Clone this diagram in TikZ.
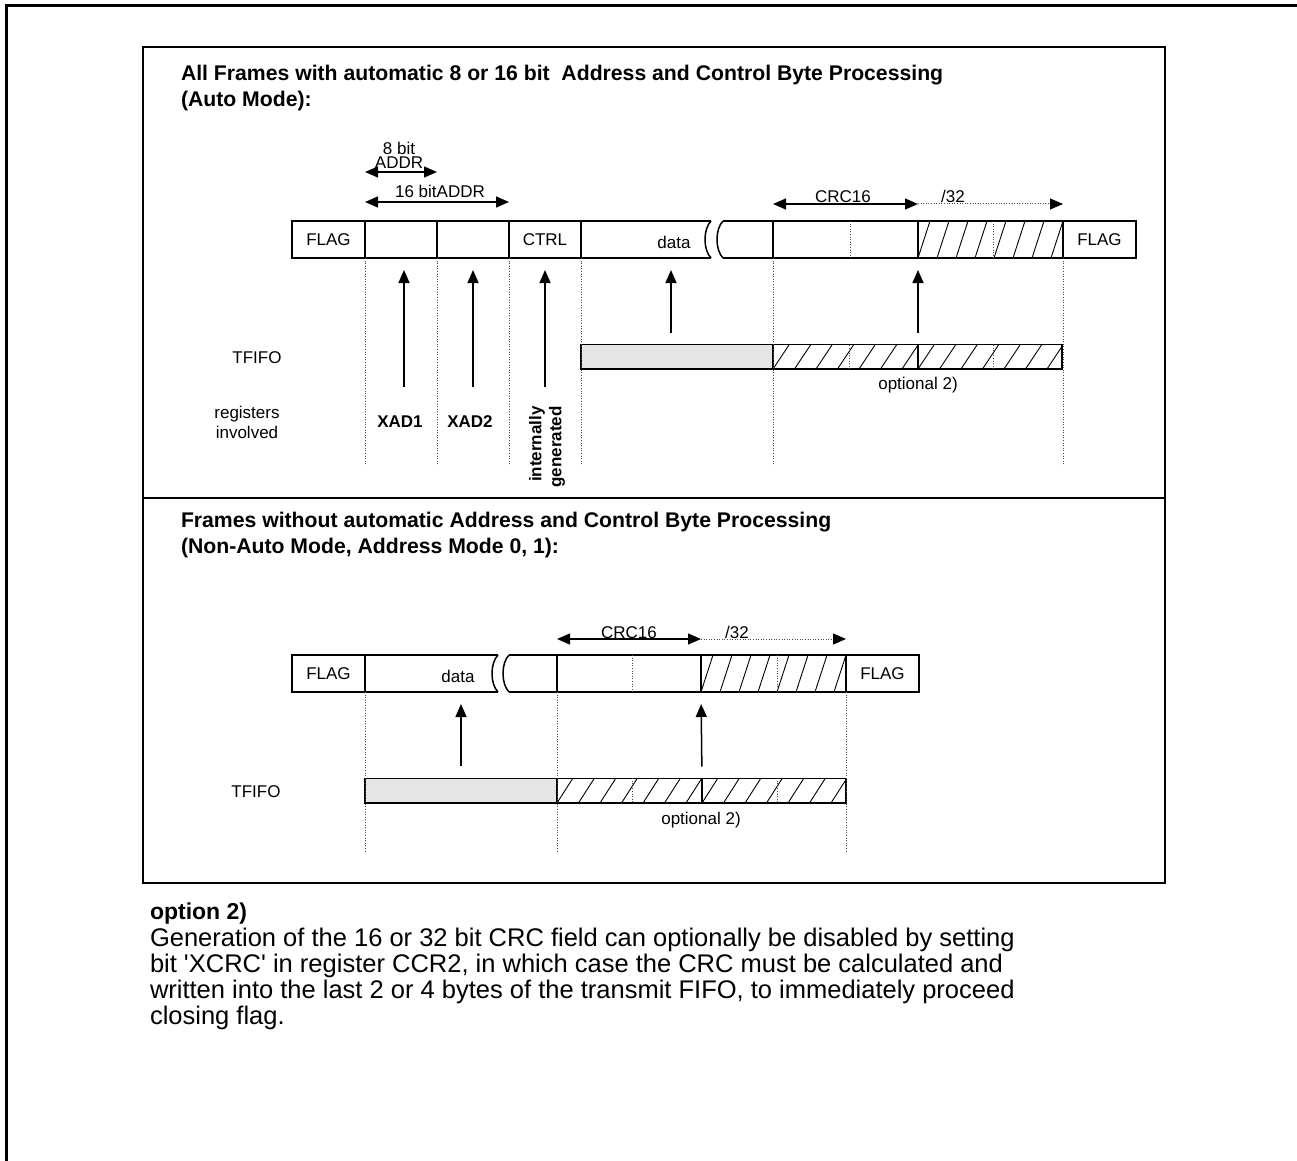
\documentclass[tikz,border=0pt]{standalone}
\usepackage{fontspec}
\setmainfont{Liberation Sans}
\usetikzlibrary{arrows.meta}
\newcommand\myd{\fontsize{8.5}{10}\selectfont}
\newcommand\myt{\fontsize{10.6}{13}\selectfont\bfseries}
\newcommand\myp{\fontsize{12.75}{13}\selectfont}
\newcommand\mkfld[6][]{%
  \pgfmathsetmacro\fldw{(#4-#3)*0.5}%
  \node[fld,minimum width=\fldw pt,#1] (#2) at (#3,#5) {#6};}
\newcommand\hatch[6]{%
  \begin{scope}
    \clip (#1,#3) rectangle (#2,#4);
    \pgfmathtruncatemacro\nh{(#2-#1)/#5+1}%
    \foreach \k in {0,...,\nh}{\draw[hatchln] ({#1+\k*#5},#4) -- ({#1+\k*#5+#6},#3);}
  \end{scope}}
\begin{document}
\begin{tikzpicture}[x=0.5pt,y=-0.5pt,
  every node/.style={inner sep=0pt,outer sep=0pt},
  fld/.style={draw,line width=0.75pt,minimum height=18.5pt,anchor=south west,font=\myd},
  bx/.style={line width=0.75pt},
  dots/.style={line width=0.5pt,black!70,dash pattern=on 0.5pt off 0.8pt},
  dimarrow/.style={line width=0.7pt,{Triangle[length=6.5pt,width=5.5pt]}-{Triangle[length=6.5pt,width=5.5pt]}},
  dotarrow/.style={dots,-{Triangle[length=6.5pt,width=5.5pt,color=black]}},
  uparrow/.style={line width=0.75pt,-{Triangle[length=6.5pt,width=5.5pt]},shorten <=6pt,shorten >=6pt},
  lbl/.style={font=\myd},
  blbl/.style={font=\myd\bfseries},
  ttl/.style={anchor=base west,font=\myt},
  para/.style={anchor=base west,font=\myp},
  hatchln/.style={line width=0.45pt},
  fifo/.style={minimum height=12.25pt},
]
\useasboundingbox (0,0) rectangle (1297,1161);
% outer and inner frames
\draw[line width=1.5pt] (6.5,1161) -- (6.5,5.5) -- (1297,5.5);
\draw[line width=1pt] (143,47) rectangle (1165,883);
\draw[line width=1pt] (143,498) -- (1165,498);

% titles
\node[ttl] (t1a) at (181,81) {All Frames with automatic 8 or 16 bit~ Address and Control Byte Processing};
\node[ttl] (t1b) at (181,107) {(Auto Mode):};
\node[ttl] (t2a) at (181,527) {Frames without automatic Address and Control Byte Processing};
\node[ttl] (t2b) at (181,553) {(Non-Auto Mode, Address Mode 0, 1):};

% ===== top frame =====
\mkfld{fa}{292}{365}{258}{FLAG}
\mkfld{xa}{365}{437}{258}{}
\mkfld{xb}{437}{509}{258}{}
\mkfld{ct}{509}{581}{258}{CTRL}
\mkfld[draw=none]{dbox}{581}{711}{258}{}
\draw[bx] (711,221) -- (581,221) -- (581,258) -- (711,258);
\draw[bx] (711,221) .. controls (703,229) and (703,250) .. (711,258);
\draw[bx] (723,221) .. controls (715,229) and (715,250) .. (723,258);
\draw[bx] (723,221) -- (773,221);
\draw[bx] (723,258) -- (773,258);
\node[lbl] (dt) at (674,242) {data};
\mkfld{crc}{773}{918}{258}{}
\mkfld{hat}{918}{1063}{258}{}
\hatch{918}{1063}{221}{258}{19}{12}
\mkfld{fb}{1063}{1136}{258}{FLAG}
\draw[dots] (850,221) -- (850,258);
\draw[dots] (993,221) -- (993,258);

% dimension arrows
\draw[dimarrow] ([yshift=24.5pt]xa.north west) -- ([yshift=24.5pt]xa.north east);
\node[font=\fontsize{8.5}{7}\selectfont,align=center,anchor=south] (l8) at (399,169) {8 bit\\ADDR};
\draw[dimarrow] ([yshift=9.5pt]xa.north west) -- ([yshift=9.5pt]xb.north east);
\node[lbl,anchor=base] (l16) at (440,198) {16 bitADDR};
\draw[dimarrow] ([yshift=8.5pt]crc.north west) -- ([yshift=8.5pt]crc.north east);
\draw[dotarrow] ([yshift=8.5pt]hat.north west) -- ([yshift=8.5pt]hat.north east);
\node[lbl,anchor=base] (lc) at (843,203) {CRC16};
\node[lbl,anchor=base] (l32) at (953,203) {/32};

% TFIFO
\node[lbl] (tf) at (257,358) {TFIFO};
\mkfld[fifo,fill=black!10]{tg}{581}{773}{369}{}
\mkfld[fifo]{th1}{773}{918}{369}{}
\mkfld[fifo]{th2}{918}{1062}{369}{}
\hatch{773}{918}{345}{369}{21.5}{16}
\hatch{918}{1062}{345}{369}{21.5}{16}
\draw[dots] (849,345) -- (849,369);
\draw[dots] (993,345) -- (993,369);
\node[lbl] (op) at (918,385) {optional 2)};

% vertical guides
\foreach \p in {xa.south west,xb.south west,ct.south west,ct.south east,crc.south west,hat.south east}
  \draw[dots] (\p) -- ++(0,208);

% arrows
\coordinate (a1) at (404,387);
\coordinate (a2) at (473,387);
\coordinate (a3) at (545,387);
\draw[uparrow,shorten <=0pt] (a1) -- (a1 |- xa.south);
\draw[uparrow,shorten <=0pt] (a2) -- (a2 |- xb.south);
\draw[uparrow,shorten <=0pt] (a3) -- (a3 |- ct.south);
\coordinate (d1) at (671,345);
\draw[uparrow] (d1) -- (d1 |- dbox.south);
\draw[uparrow] (th2.north west) -- (hat.south west);

% registers
\node[lbl,align=center] (reg) at (247,422) {registers\\involved};
\node[blbl] (x1) at (400,422) {XAD1};
\node[blbl] (x2) at (470,422) {XAD2};
\node[blbl,rotate=90,align=right] (ig) at (547,447) {internally\\generated};

% ===== bottom frame =====
\mkfld{lfa}{292}{365}{692}{FLAG}
\mkfld[draw=none]{ldbox}{365}{498}{692}{}
\draw[bx] (498,655) -- (365,655) -- (365,692) -- (498,692);
\draw[bx] (498,655) .. controls (490,663) and (490,684) .. (498,692);
\draw[bx] (509,655) .. controls (501,663) and (501,684) .. (509,692);
\draw[bx] (509,655) -- (557,655);
\draw[bx] (509,692) -- (557,692);
\node[lbl] (ldt) at (458,676) {data};
\mkfld{lcrc}{557}{701}{692}{}
\mkfld{lhat}{701}{846}{692}{}
\hatch{701}{846}{655}{692}{19}{12}
\mkfld{lfb}{846}{919}{692}{FLAG}
\draw[dots] (632,655) -- (632,692);
\draw[dots] (777,655) -- (777,692);

\draw[dimarrow] ([yshift=8pt]lcrc.north west) -- ([yshift=8pt]lcrc.north east);
\draw[dotarrow] ([yshift=8pt]lhat.north west) -- ([yshift=8pt]lhat.north east);
\node[lbl,anchor=base] (llc) at (629,638) {CRC16};
\node[lbl,anchor=base] (ll32) at (737,638) {/32};

\node[lbl] (ltf) at (256,792) {TFIFO};
\mkfld[fifo,fill=black!10]{ltg}{365}{557}{803}{}
\mkfld[fifo]{lth1}{557}{702}{803}{}
\mkfld[fifo]{lth2}{702}{846}{803}{}
\hatch{557}{702}{778}{803}{21.5}{16}
\hatch{702}{846}{778}{803}{21.5}{16}
\draw[dots] (632,778) -- (632,803);
\draw[dots] (777,778) -- (777,803);
\node[lbl] (lop) at (701,820) {optional 2)};

\foreach \p in {ldbox.south west,lcrc.south west,lhat.south east}
  \draw[dots] (\p) -- ++(0,161);

\coordinate (ld1) at (461,778);
\draw[uparrow] (ld1) -- (ld1 |- ldbox.south);
\draw[uparrow] (lth2.north west) -- (lhat.south west);

% ===== note =====
\node[para,font=\fontsize{11.5}{13}\selectfont\bfseries] (p0) at (150,919) {option 2)};
\node[para] (p1) at (150,946) {Generation of the 16 or 32 bit CRC field can optionally be disabled by setting};
\node[para] (p2) at (150,972) {bit \textquotesingle XCRC\textquotesingle\ in register CCR2, in which case the CRC must be calculated and};
\node[para] (p3) at (150,998) {written into the last 2 or 4 bytes of the transmit FIFO, to immediately proceed};
\node[para] (p4) at (150,1024) {closing flag.};
\end{tikzpicture}
\end{document}
